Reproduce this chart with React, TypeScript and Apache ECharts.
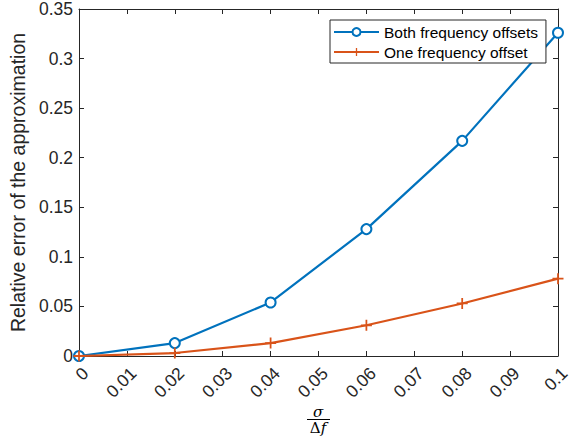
import React, { useEffect, useRef } from "react";
import * as echarts from "echarts";

const xValues = [0, 0.02, 0.04, 0.06, 0.08, 0.1];
const bothOffsets = [0, 0.013, 0.054, 0.128, 0.217, 0.326];
const oneOffset = [0, 0.003, 0.013, 0.031, 0.053, 0.078];
const seriesNames = ["Both frequency offsets", "One frequency offset"];

const FONT = "Liberation Sans";
const AX = "#262626";

export default function App() {
  const ref = useRef<HTMLDivElement>(null);
  useEffect(() => {
    const chart = echarts.init(ref.current!, null, { renderer: "svg" });
    const plusPath = "path://M4.2,0H5.8V4.2H10V5.8H5.8V10H4.2V5.8H0V4.2H4.2Z";
    const axisCommon = {
      axisLine: { show: true, onZero: false, lineStyle: { color: AX, width: 1 } },
      axisTick: { show: true, inside: true, length: 5, lineStyle: { color: AX } },
      splitLine: { show: false },
    };
    chart.setOption({
      animation: false,
      backgroundColor: "#fff",
      grid: { left: 79, right: 21, top: 8, bottom: 83 },
      legend: {
        orient: "vertical",
        left: 330,
        top: 20,
        backgroundColor: "#fff",
        borderColor: AX,
        borderWidth: 1,
        borderRadius: 0,
        padding: [4, 8, 3, 3],
        itemGap: 4,
        itemWidth: 45,
        itemHeight: 10,
        textStyle: { fontFamily: FONT, fontSize: 15.5, color: "#000" },
        data: seriesNames,
      },
      xAxis: [
        {
          type: "value",
          min: 0,
          max: 0.1,
          interval: 0.01,
          ...axisCommon,
          axisLabel: {
            rotate: 45,
            align: "right",
            verticalAlign: "top",
            fontFamily: FONT,
            fontSize: 17.5,
            color: AX,
            margin: 8,
            formatter: (v: number) => String(+v.toFixed(2)),
          },
        },
        {
          type: "value",
          position: "top",
          min: 0,
          max: 0.1,
          interval: 0.01,
          ...axisCommon,
          axisLabel: { show: false },
        },
      ],
      yAxis: [
        {
          type: "value",
          min: 0,
          max: 0.35,
          interval: 0.05,
          ...axisCommon,
          axisLabel: {
            fontFamily: FONT,
            fontSize: 17.5,
            color: AX,
            margin: 6,
            formatter: (v: number) => String(+v.toFixed(2)),
          },
          name: "Relative error of the approximation",
          nameLocation: "middle",
          nameGap: 47,
          nameTextStyle: { fontFamily: FONT, fontSize: 19.5, color: AX },
        },
        {
          type: "value",
          position: "right",
          min: 0,
          max: 0.35,
          interval: 0.05,
          ...axisCommon,
          axisLabel: { show: false },
        },
      ],
      series: [
        {
          name: seriesNames[0],
          type: "line",
          data: xValues.map((x, i) => [x, bothOffsets[i]]),
          symbol: "emptyCircle",
          symbolSize: 10,
          lineStyle: { color: "#0072BD", width: 2.2 },
          itemStyle: { color: "#0072BD", borderWidth: 2.2 },
          z: 3,
        },
        {
          name: seriesNames[1],
          type: "line",
          data: xValues.map((x, i) => [x, oneOffset[i]]),
          symbol: plusPath,
          symbolSize: 11,
          lineStyle: { color: "#D95319", width: 2.2 },
          itemStyle: { color: "#D95319" },
          z: 4,
        },
      ],
      graphic: [
        {
          type: "text",
          x: 318,
          y: 412,
          style: {
            text: "σ",
            font: "italic 15px 'DejaVu Serif'",
            fill: "#000",
            align: "center",
            verticalAlign: "middle",
          },
        },
        {
          type: "line",
          shape: { x1: 307, y1: 419.5, x2: 330, y2: 419.5 },
          style: { stroke: "#000", lineWidth: 1 },
        },
        {
          type: "text",
          x: 318,
          y: 428,
          style: {
            text: "{a|Δ}{b|f}",
            align: "center",
            verticalAlign: "middle",
            rich: {
              a: { font: "15px 'DejaVu Serif'", fill: "#000" },
              b: { font: "italic 15px 'DejaVu Serif'", fill: "#000" },
            },
          },
        },
      ],
    });
    return () => chart.dispose();
  }, []);
  return (
    <div
      ref={ref}
      style={{ position: "fixed", left: 0, top: 0, width: 579, height: 439 }}
    />
  );
}
